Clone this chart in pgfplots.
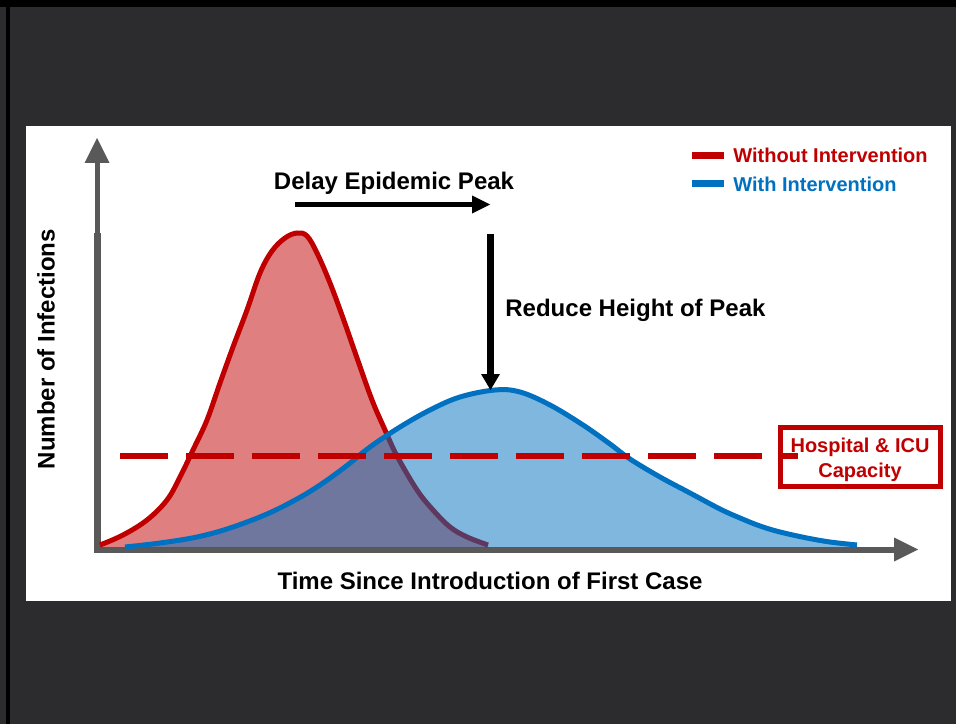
\documentclass[border=0pt]{standalone}
\usepackage{pgfplots}
\pgfplotsset{compat=1.18}
\usepackage{fontspec}
\setmainfont{Liberation Sans}
\definecolor{bgdark}{HTML}{2C2C2F}
\definecolor{cred}{HTML}{C00000}
\definecolor{cblue}{HTML}{0070C0}
\definecolor{axgray}{HTML}{595959}
\begin{document}
\begin{tikzpicture}
\begin{axis}[
  scale only axis, width=478pt, height=362pt,
  xmin=0, xmax=956, ymin=-177, ymax=547,
  hide axis, clip=false,
  at={(0,0)}, anchor=south west]
% slide background
\fill[bgdark] (axis cs:0,-177) rectangle (axis cs:956,547);
\fill[black] (axis cs:0,540) rectangle (axis cs:956,547);
\fill[black] (axis cs:6,-177) rectangle (axis cs:10,540);
% white panel
\fill[white] (axis cs:26,-54) rectangle (axis cs:951,421);
% axes
\draw[axgray, line width=3.5pt] (axis cs:97,-5) -- (axis cs:97,314);
\draw[axgray, line width=2.5pt] (axis cs:97,314) -- (axis cs:97,386);
\fill[axgray] (axis cs:84.5,384) -- (axis cs:97,409) -- (axis cs:109.5,384) -- cycle;
\draw[axgray, line width=3pt] (axis cs:94,-2.5) -- (axis cs:896,-2.5);
\fill[axgray] (axis cs:894,9.5) -- (axis cs:918,-2.5) -- (axis cs:894,-14.5) -- cycle;
% without intervention
\addplot[draw=none, fill=cred, fill opacity=0.5, smooth, tension=0.6] coordinates {
(100,2) (123,12) (147,27) (167,47) (180,70) (193,97) (207,127) (220,164)
(233,200) (247,237) (260,274) (272,296) (285,309) (297,314) (307,311)
(317,294) (330,264) (343,229) (357,189) (372,147) (385,117) (397,91)
(417,57) (433,37) (450,20) (467,10) (488,2)} \closedcycle;
\addplot[cred, line width=2.5pt, smooth, tension=0.6] coordinates {
(100,2) (123,12) (147,27) (167,47) (180,70) (193,97) (207,127) (220,164)
(233,200) (247,237) (260,274) (272,296) (285,309) (297,314) (307,311)
(317,294) (330,264) (343,229) (357,189) (372,147) (385,117) (397,91)
(417,57) (433,37) (450,20) (467,10) (488,2)};
% with intervention
\addplot[draw=none, fill=cblue, fill opacity=0.5, smooth, tension=0.6] coordinates {
(125,0) (160,4) (197,10) (230,19) (267,33) (297,48) (320,62) (345,80)
(370,100) (400,120) (430,137) (460,150) (495,157) (520,155) (550,142)
(583,122) (610,103) (630,88) (660,70) (690,54) (720,38) (740,29) (760,21)
(780,15) (807,9) (830,5) (857,2)} \closedcycle;
\addplot[cblue, line width=2.5pt, smooth, tension=0.6] coordinates {
(125,0) (160,4) (197,10) (230,19) (267,33) (297,48) (320,62) (345,80)
(370,100) (400,120) (430,137) (460,150) (495,157) (520,155) (550,142)
(583,122) (610,103) (630,88) (660,70) (690,54) (720,38) (740,29) (760,21)
(780,15) (807,9) (830,5) (857,2)};
% capacity line and box
\draw[cred, line width=2.5pt] (axis cs:780.5,60.5) rectangle (axis cs:940.5,119.5);
\draw[cred, line width=3pt, dash pattern=on 24pt off 9pt] (axis cs:120,91) -- (axis cs:798,91);
\node[cred, font=\fontsize{10}{12}\selectfont\bfseries, anchor=base] at (axis cs:860,95) {Hospital \& ICU};
\node[cred, font=\fontsize{10}{12}\selectfont\bfseries, anchor=base] at (axis cs:860,70) {Capacity};
% legend
\draw[cred, line width=3.5pt] (axis cs:692,391) -- (axis cs:724,391);
\node[cred, font=\fontsize{10}{12}\selectfont\bfseries, anchor=base west, inner sep=0pt] at (axis cs:733,384) {Without Intervention};
\draw[cblue, line width=3.5pt] (axis cs:692,363) -- (axis cs:724,363);
\node[cblue, font=\fontsize{10}{12}\selectfont\bfseries, anchor=base west, inner sep=0pt] at (axis cs:733,355) {With Intervention};
% annotations
\node[font=\fontsize{12}{14}\selectfont\bfseries, anchor=base] at (axis cs:394,357) {Delay Epidemic Peak};
\draw[black, line width=2.5pt] (axis cs:295,342.5) -- (axis cs:473,342.5);
\fill[black] (axis cs:472,351.5) -- (axis cs:490,342.5) -- (axis cs:472,333.5) -- cycle;
\draw[black, line width=3.5pt] (axis cs:490.5,313) -- (axis cs:490.5,172);
\fill[black] (axis cs:481,173) -- (axis cs:490.5,157) -- (axis cs:500,173) -- cycle;
\node[font=\fontsize{12}{14}\selectfont\bfseries, anchor=base west, inner sep=0pt] at (axis cs:505,231) {Reduce Height of Peak};
% axis labels
\node[font=\fontsize{12}{14}\selectfont\bfseries, anchor=base] at (axis cs:490,-42.5) {Time Since Introduction of First Case};
\node[font=\fontsize{12}{14}\selectfont\bfseries, anchor=base, rotate=90] at (axis cs:54.5,198) {Number of Infections};
\end{axis}
\end{tikzpicture}
\end{document}
